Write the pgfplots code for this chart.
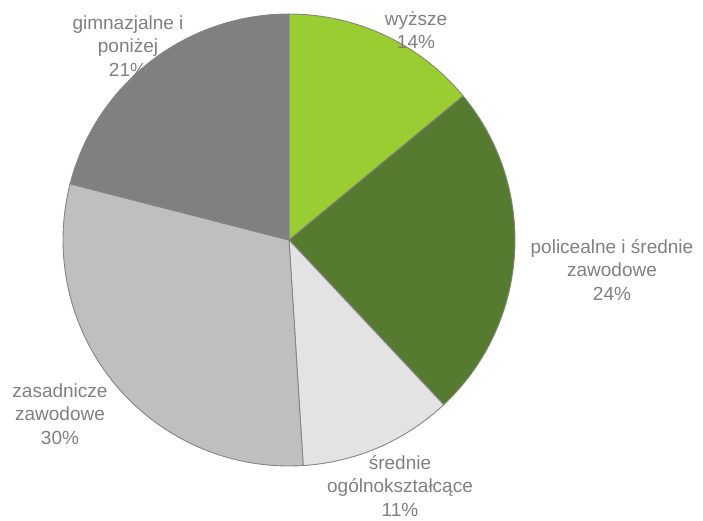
\documentclass[border=0pt]{standalone}
\usepackage{fontspec}
\setmainfont{Liberation Sans}
\usepackage{pgfplots}
\usepackage{pgfplotstable}
\pgfplotsset{compat=1.18}

\definecolor{cA}{HTML}{9ACD32}
\definecolor{cB}{HTML}{567A2F}
\definecolor{cC}{HTML}{E3E3E3}
\definecolor{cD}{HTML}{BFBFBF}
\definecolor{cE}{HTML}{808080}
\definecolor{edge}{HTML}{858585}
\definecolor{txt}{HTML}{808080}

% share of each group, clockwise from 12 o'clock
\pgfplotstableread{
pct col
14  cA
24  cB
11  cC
30  cD
21  cE
}\piedata

% build the slice commands from the table
\gdef\piecmds{}
\gdef\piecum{0}
\pgfplotstableforeachcolumnelement{pct}\of\piedata\as\piepct{%
  \pgfplotstablegetelem{\pgfplotstablerow}{col}\of\piedata
  \let\piecol\pgfplotsretval
  \pgfmathsetmacro\piea{90-3.6*\piecum}
  \pgfmathsetmacro\pieb{90-3.6*(\piecum+\piepct)}
  \xdef\piecmds{\unexpanded\expandafter{\piecmds}%
    \noexpand\filldraw[fill=\piecol, draw=edge, line width=0.9pt, line join=round]
      (axis cs:289,280) -- ++(\piea:226pt) arc[start angle=\piea, end angle=\pieb, radius=226pt] -- cycle;}
  \pgfmathsetmacro\pienext{\piecum+\piepct}
  \global\let\piecum\pienext
}

\begin{document}
\begin{tikzpicture}
\begin{axis}[
    scale only axis,
    width=703pt, height=520pt,
    xmin=0, xmax=703, ymin=0, ymax=520,
    hide axis,
    clip=false,
]
\piecmds
\begin{scope}[every node/.style={text=txt, align=center,
    font=\fontsize{19}{23.5}\selectfont}]
\node at (axis cs:416,490) {wyższe\\14\%};
\node at (axis cs:612,250) {policealne i średnie\\zawodowe\\24\%};
\node at (axis cs:400,34) {średnie\\ogólnokształcące\\11\%};
\node at (axis cs:60,106) {zasadnicze\\zawodowe\\30\%};
\node at (axis cs:128,474) {gimnazjalne i\\poniżej\\21\%};
\end{scope}
\end{axis}
\pgfresetboundingbox
\useasboundingbox (0,0) rectangle (703pt,520pt);
\end{tikzpicture}
\end{document}
